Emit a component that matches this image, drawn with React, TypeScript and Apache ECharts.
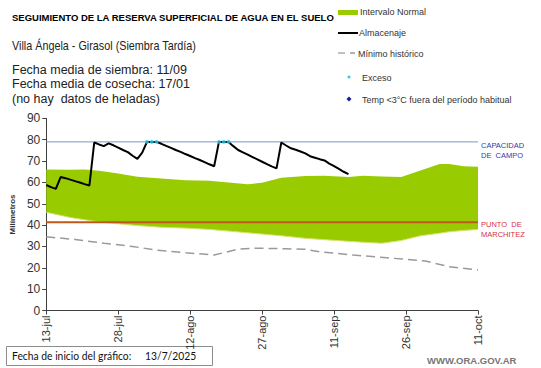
import React, { useEffect, useRef } from "react";
import * as echarts from "echarts";

const X_TICK_LABELS = ["13-jul", "28-jul", "12-ago", "27-ago", "11-sep", "26-sep", "11-oct"];

// Almacenaje: one value per day starting 13-jul (day 0)
const ALMACENAJE = [
  58.8, 57.8, 57.0, 62.5, 62.0, 61.3, 60.6, 60.0, 59.2, 58.6,
  78.7, 77.8, 77.0, 78.3, 77.4, 76.3, 75.2, 74.2, 72.5, 71.0,
  74.0, 79.0, 79.0, 79.0, 78.1, 77.1, 76.2, 75.2, 74.3, 73.3,
  72.4, 71.4, 70.5, 69.5, 68.5, 67.6, 79.0, 79.0, 79.0, 77.0,
  75.2, 74.1, 73.0, 71.9, 70.8, 69.7, 68.6, 67.5, 66.6, 78.7,
  77.3, 76.0, 75.3, 74.5, 73.6, 72.3, 71.6, 70.9, 70.3, 68.8,
  67.6, 66.3, 65.0, 63.9,
];

const BAND_DAYS = [0, 5, 8, 11, 15, 19, 24, 29, 34, 38, 42, 45, 49, 54, 58, 63, 66, 70, 74, 78, 82, 84, 87, 90];
const BAND_UPPER = [66.1, 66.0, 66.1, 65.5, 64.2, 62.7, 61.8, 61.0, 60.8, 60.0, 59.2, 59.8, 62.2, 63.0, 63.1, 62.6, 63.1, 62.8, 62.6, 65.6, 68.6, 68.6, 67.6, 67.3];
const BAND_LOWER = [46.0, 43.6, 42.5, 41.5, 40.6, 39.8, 39.0, 38.6, 38.0, 37.2, 36.4, 35.8, 35.0, 33.8, 33.2, 32.4, 32.0, 31.5, 32.8, 35.0, 36.2, 36.9, 37.5, 38.0];

const MIN_DAYS = [0, 6, 12, 18, 23, 29, 35, 40, 44, 50, 54, 57, 64, 71, 79, 84, 90];
const MIN_HIST = [34.5, 33.3, 31.5, 30.0, 28.3, 27.1, 26.0, 28.7, 29.2, 28.9, 28.7, 27.5, 26.0, 24.7, 23.2, 20.5, 19.0];

const EXCESO_DAYS = [21, 22, 23, 36, 37, 38];
const EXCESO_VALUES = [79, 79, 79, 79, 79, 79];

const CAPACIDAD = 79;
const MARCHITEZ = 41.3;
const X_MAX = 90;

const FONT = "'Liberation Sans', Arial, sans-serif";

export default function App() {
  const ref = useRef<HTMLDivElement>(null);
  useEffect(() => {
    if (!ref.current) return;
    const chart = echarts.init(ref.current, null, { renderer: "svg" });
    const legendText = (x: number, y: number, t: string) => ({
      type: "text",
      left: x,
      top: y,
      style: { text: t, fontSize: 9, fontFamily: FONT, fill: "#333" },
    });
    const bandData = BAND_DAYS.map((d, i) => [d, BAND_LOWER[i], BAND_UPPER[i]]);
    chart.setOption({
      animation: false,
      textStyle: { fontFamily: FONT },
      grid: { left: 35, right: 63, top: 118.4, bottom: 57.5 },
      xAxis: {
        type: "value",
        min: 0,
        max: X_MAX,
        interval: 15,
        splitLine: { show: false },
        axisLine: { lineStyle: { color: "#404040", width: 1 } },
        axisTick: { show: true, length: 4, lineStyle: { color: "#404040" } },
        axisLabel: {
          rotate: 90,
          fontSize: 11,
          color: "#333",
          margin: 5,
          formatter: (v: number) => X_TICK_LABELS[Math.round(v / 15)] ?? "",
        },
      },
      yAxis: {
        type: "value",
        min: 0,
        max: 90,
        interval: 10,
        name: "Milímetros",
        nameLocation: "middle",
        nameGap: 23,
        nameTextStyle: { fontSize: 8, fontWeight: "bold", color: "#333" },
        splitLine: { show: false },
        axisLine: { show: true, lineStyle: { color: "#404040", width: 1 } },
        axisTick: { show: true, length: 4, lineStyle: { color: "#404040" } },
        axisLabel: { fontSize: 12, color: "#333", margin: 6 },
      },
      series: [
        {
          type: "custom",
          name: "Intervalo Normal",
          data: bandData,
          encode: { x: 0, y: [1, 2] },
          silent: true,
          z: 1,
          renderItem: (params: any, api: any) => {
            if (params.dataIndex !== 0) return null;
            const upper = bandData.map((p) => api.coord([p[0], p[2]]));
            const lower = bandData.map((p) => api.coord([p[0], p[1]]));
            const poly = upper.concat(lower.slice().reverse());
            return {
              type: "group",
              children: [
                { type: "polygon", shape: { points: poly }, style: { fill: "#99cc00" } },
                { type: "polyline", shape: { points: lower }, style: { stroke: "#d8e070", lineWidth: 1, fill: "none" } },
              ],
            };
          },
        },
        {
          type: "line",
          data: [[0, CAPACIDAD], [X_MAX, CAPACIDAD]],
          symbol: "none",
          lineStyle: { width: 1, color: "#7a96c8" },
          z: 2,
        },
        {
          type: "line",
          data: [[0, MARCHITEZ], [X_MAX, MARCHITEZ]],
          symbol: "none",
          lineStyle: { width: 2, color: "#c0581a" },
          z: 2,
        },
        {
          type: "line",
          data: MIN_DAYS.map((d, i) => [d, MIN_HIST[i]]),
          symbol: "none",
          lineStyle: { width: 1.5, color: "#9a9a9a", type: [9, 5] },
          z: 3,
        },
        {
          type: "line",
          data: ALMACENAJE.map((v, i) => [i, v]),
          symbol: "none",
          lineStyle: { width: 2, color: "#000" },
          z: 4,
        },
        {
          type: "scatter",
          data: EXCESO_DAYS.map((d, i) => [d, EXCESO_VALUES[i]]),
          symbol: "circle",
          symbolSize: 4,
          itemStyle: { color: "#33c8e8" },
          z: 5,
        },
      ],
      graphic: [
        {
          type: "text",
          left: 12,
          top: 12,
          style: {
            text: "SEGUIMIENTO DE LA RESERVA SUPERFICIAL DE AGUA EN EL SUELO",
            fontSize: 9.5,
            fontWeight: "bold",
            fontFamily: FONT,
            fill: "#000",
          },
        },
        {
          type: "text",
          x: 12,
          y: 39,
          scaleX: 0.865,
          style: {
            text: "Villa Ángela - Girasol (Siembra Tardía)",
            fontSize: 12.5,
            fontFamily: FONT,
            fill: "#222",
            verticalAlign: "top",
          },
        },
        {
          type: "text",
          left: 12,
          top: 63,
          style: {
            text: "Fecha media de siembra: 11/09\nFecha media de cosecha: 17/01\n(no hay  datos de heladas)",
            fontSize: 12.5,
            lineHeight: 14.3,
            fontFamily: FONT,
            fill: "#222",
          },
        },
        // legend
        { type: "rect", shape: { x: 338, y: 10, width: 20, height: 5 }, style: { fill: "#99cc00" } },
        legendText(360, 7, "Intervalo Normal"),
        { type: "line", shape: { x1: 338, y1: 33, x2: 358, y2: 33 }, style: { stroke: "#000", lineWidth: 2 } },
        legendText(359, 28, "Almacenaje"),
        { type: "line", shape: { x1: 338, y1: 53, x2: 345, y2: 53 }, style: { stroke: "#999", lineWidth: 1.2 } },
        { type: "line", shape: { x1: 350, y1: 53, x2: 355, y2: 53 }, style: { stroke: "#666", lineWidth: 1 } },
        legendText(358, 49, "Mínimo histórico"),
        { type: "circle", shape: { cx: 349, cy: 77, r: 1.5 }, style: { fill: "#33c8e8" } },
        legendText(362, 73, "Exceso"),
        { type: "polygon", shape: { points: [[349, 96.5], [351.5, 99], [349, 101.5], [346.5, 99]] }, style: { fill: "#1a1aa0" } },
        legendText(362, 95, "Temp <3°C fuera del período habitual"),
        // reference line labels
        {
          type: "text",
          left: 481,
          top: 141,
          style: { text: "CAPACIDAD\nDE  CAMPO", fontSize: 7.5, lineHeight: 9.5, fontFamily: FONT, fill: "#3838a8" },
        },
        {
          type: "text",
          left: 481,
          top: 220,
          style: { text: "PUNTO  DE\nMARCHITEZ", fontSize: 7.5, lineHeight: 9.5, fontFamily: FONT, fill: "#d83040" },
        },
        // bottom box
        {
          type: "rect",
          shape: { x: 6.5, y: 346.5, width: 206, height: 19 },
          style: { fill: "#fff", stroke: "#8c8c8c", lineWidth: 1 },
        },
        {
          type: "text",
          x: 12,
          y: 349,
          scaleX: 0.86,
          style: { text: "Fecha de inicio del gráfico:", fontSize: 12, fontFamily: "Lato, sans-serif", fill: "#111", verticalAlign: "top" },
        },
        {
          type: "text",
          x: 145,
          y: 349,
          scaleX: 0.86,
          style: { text: "13/7/2025", fontSize: 12, fontFamily: "Lato, sans-serif", fill: "#111", verticalAlign: "top" },
        },
        {
          type: "text",
          left: 427,
          top: 355,
          style: { text: "WWW.ORA.GOV.AR", fontSize: 9.5, fontWeight: "bold", fontFamily: FONT, fill: "#777" },
        },
      ],
    });
    return () => chart.dispose();
  }, []);
  return <div ref={ref} style={{ width: 541, height: 368, position: "absolute", left: 0, top: 0 }} />;
}
